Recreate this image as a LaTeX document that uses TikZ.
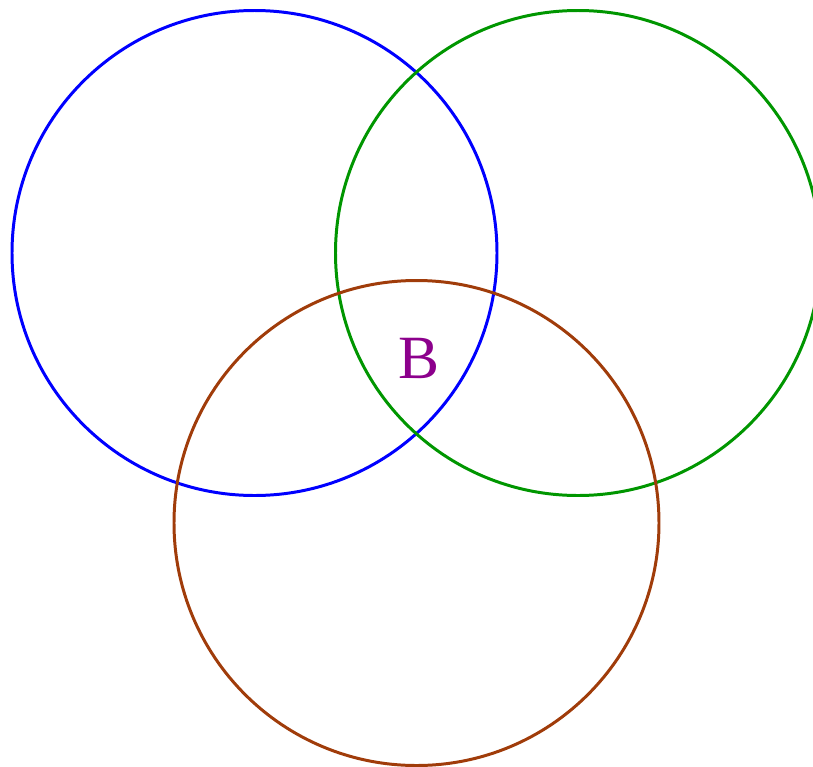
\documentclass[tikz,border=0pt]{standalone}
\usepackage{fontspec}
\setmainfont{Liberation Serif}
\usepackage{tikz}
\definecolor{ringblue}{RGB}{0,0,255}
\definecolor{ringgreen}{RGB}{0,150,0}
\definecolor{ringbrown}{RGB}{160,60,10}
\definecolor{labelpurple}{RGB}{140,0,140}
\begin{document}
\begin{tikzpicture}[scale=0.2]
		\tikzstyle{every node}+=[inner sep=0pt]
		\tikzstyle{ring}=[line width=1.7pt]
		\useasboundingbox (0,0) rectangle (81.3,-76.7);
		\draw [ring, ringblue] (25.45,-25.3) circle (24.25);
		\draw [ring, ringgreen] (57.8,-25.3) circle (24.25);
		\draw [ring, ringbrown] (41.65,-52.3) circle (24.25);
		\node (lblB) [text=labelpurple, font=\fontsize{35}{40}\selectfont] at (41.9,-35.8) {B};
	\end{tikzpicture}
\end{document}
